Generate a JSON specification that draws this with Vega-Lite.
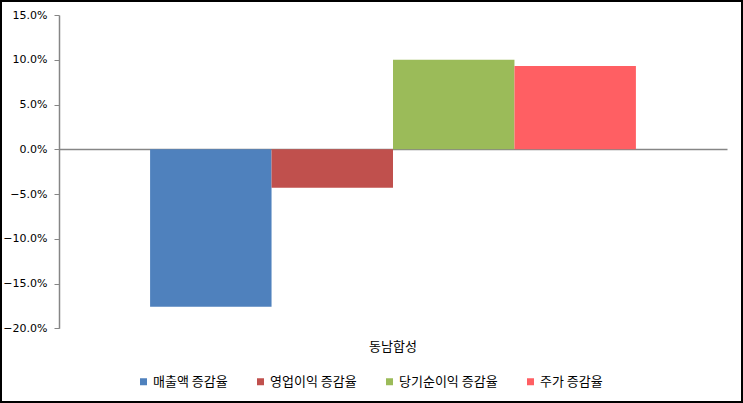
{
  "$schema": "https://vega.github.io/schema/vega-lite/v6.json",
  "width": 743,
  "height": 403,
  "autosize": {"type": "none"},
  "padding": 0,
  "background": "white",
  "config": {
    "view": {"stroke": "black", "strokeWidth": 4},
    "font": "Noto Sans CJK KR"
  },
  "data": {
    "values": [
      {"company": "동남합성", "series": "매출액 증감율", "value": -0.176},
      {"company": "동남합성", "series": "영업이익 증감율", "value": -0.043},
      {"company": "동남합성", "series": "당기순이익 증감율", "value": 0.100},
      {"company": "동남합성", "series": "주가 증감율", "value": 0.093}
    ]
  },
  "mark": {"type": "bar"},
  "encoding": {
    "x": {
      "field": "company",
      "type": "nominal",
      "scale": {"range": [59, 727], "paddingInner": 0, "paddingOuter": 0.1875},
      "axis": {
        "orient": "bottom",
        "offset": -254,
        "title": null,
        "ticks": false,
        "labelAngle": 0,
        "labelPadding": 191,
        "labelFont": "Noto Sans CJK KR",
        "labelFontSize": 13,
        "labelColor": "black",
        "domainColor": "#868686",
        "domainWidth": 1.5
      }
    },
    "xOffset": {
      "field": "series",
      "type": "nominal",
      "sort": ["매출액 증감율", "영업이익 증감율", "당기순이익 증감율", "주가 증감율"],
      "scale": {"paddingInner": 0, "paddingOuter": 0}
    },
    "y": {
      "field": "value",
      "type": "quantitative",
      "scale": {"domain": [-0.2, 0.15], "range": [328.3, 15], "nice": false, "zero": true},
      "axis": {
        "orient": "left",
        "offset": -59,
        "title": null,
        "grid": false,
        "format": ".1%",
        "values": [-0.2, -0.15, -0.1, -0.05, 0, 0.05, 0.1, 0.15],
        "labelFont": "DejaVu Sans",
        "labelFontSize": 11,
        "labelColor": "black",
        "labelPadding": 7,
        "tickSize": 5,
        "tickColor": "#868686",
        "domainColor": "#868686",
        "domainWidth": 1.5
      }
    },
    "color": {
      "field": "series",
      "type": "nominal",
      "scale": {
        "domain": ["매출액 증감율", "영업이익 증감율", "당기순이익 증감율", "주가 증감율"],
        "range": ["#4F81BD", "#C0504D", "#9BBB59", "#FF5F63"]
      },
      "legend": {
        "orient": "none",
        "legendX": 137,
        "legendY": 375,
        "direction": "horizontal",
        "title": null,
        "symbolType": "square",
        "symbolSize": 49,
        "symbolStrokeWidth": 0,
        "labelFont": "Noto Sans CJK KR",
        "labelFontSize": 13,
        "labelColor": "black",
        "labelOffset": 3,
        "columnPadding": 26
      }
    }
  }
}
